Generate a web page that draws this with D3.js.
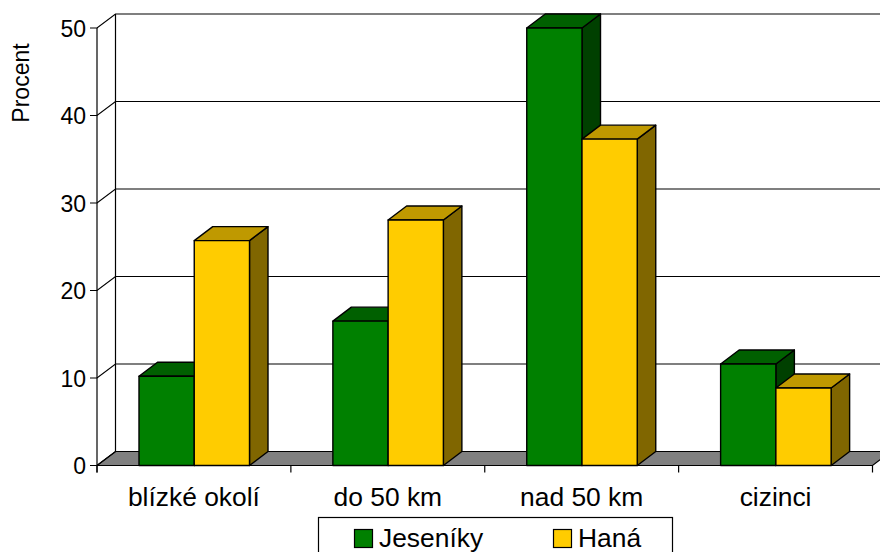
<!DOCTYPE html>
<html><head><meta charset="utf-8">
<script src="https://cdn.jsdelivr.net/npm/d3@7/dist/d3.min.js"></script>
<style>html,body{margin:0;padding:0;background:#fff;overflow:hidden}svg{display:block}text{font-family:"Liberation Sans",Arial,sans-serif;fill:#000}</style>
</head><body><script>
const categories = ["blízké okolí","do 50 km","nad 50 km","cizinci"];
const seriesNames = ["Jeseníky","Haná"];
const jeseniky = [10.2,16.5,50,11.6];
const hana = [25.7,28.05,37.3,8.86];
const yTicks = [0,10,20,30,40,50];
const colors = {Jeseníky:{front:"#008000",top:"#006000",side:"#004000"},Haná:{front:"#ffcc00",top:"#bf9900",side:"#806600"}};

const W=880,H=552,dx=18.5,dy=-14;
const svg=d3.select("body").append("svg").attr("width",W).attr("height",H);
const y=d3.scaleLinear().domain([0,50]).range([465.5,28]);
const x0=d3.scaleBand().domain(categories).range([97,872.5]);
const x1=d3.scaleBand().domain(seriesNames).range([x0.bandwidth()*0.2166,x0.bandwidth()*0.7866]);

// floor
const base=y(0);
svg.append("path").attr("d",`M97,${base}L${97+dx},${base+dy}H${872.5+dx}L872.5,${base}Z`)
  .attr("fill","#808080").attr("stroke","#000").attr("stroke-width",1.2);
// gridlines
const grid=svg.append("g").attr("fill","none").attr("stroke","#000").attr("stroke-width",1.2);
yTicks.forEach(t=>{
  grid.append("path").attr("d",`M90,${y(t)}H97L${97+dx},${y(t)+dy}H${W+20}`);
});
grid.append("path").attr("d",`M97,${y(50)}V${base+7}`);
grid.append("path").attr("d",`M${97+dx},${y(50)+dy}V${base+dy}`);
grid.append("path").attr("d",`M97,${base}H872.5`);
d3.range(5).forEach(i=>{
  const tx=97+i*x0.step();
  grid.append("path").attr("d",`M${tx},${base}v7`);
});
// bars
const barData=categories.flatMap((c,i)=>[
  {c,s:seriesNames[0],v:jeseniky[i]},
  {c,s:seriesNames[1],v:hana[i]}]);
const bars=svg.append("g").attr("stroke","#000").attr("stroke-width",1.4).attr("stroke-linejoin","round");
barData.forEach(d=>{
  const l=x0(d.c)+x1(d.s),r=l+x1.bandwidth(),t=y(d.v),col=colors[d.s];
  bars.append("path").attr("d",`M${r},${base}L${r+dx},${base+dy}V${t+dy}L${r},${t}Z`).attr("fill",col.side);
  bars.append("path").attr("d",`M${l},${t}L${l+dx},${t+dy}H${r+dx}L${r},${t}Z`).attr("fill",col.top);
  bars.append("rect").attr("x",l).attr("y",t).attr("width",r-l).attr("height",base-t).attr("fill",col.front);
});
// y labels
svg.append("g").selectAll("text").data(yTicks).join("text")
  .attr("x",86).attr("y",d=>y(d)+8.5).attr("text-anchor","end").attr("font-size",23).text(d=>d);
svg.append("text").attr("transform","translate(28.5,83) rotate(-90)").attr("text-anchor","middle").attr("font-size",23).text("Procent");
// x labels
svg.append("g").selectAll("text").data(categories).join("text")
  .attr("x",d=>x0(d)+x0.bandwidth()/2).attr("y",506).attr("text-anchor","middle").attr("font-size",26.4).text(d=>d);
// legend
svg.append("rect").attr("x",318.5).attr("y",517.5).attr("width",354).attr("height",50).attr("fill","#fff").attr("stroke","#000").attr("stroke-width",1.2);
const legX=[354.5,553.5];
seriesNames.forEach((s,i)=>{
  svg.append("rect").attr("x",legX[i]).attr("y",529.5).attr("width",18).attr("height",18).attr("fill",colors[s].front).attr("stroke","#000").attr("stroke-width",1.2);
  svg.append("text").attr("x",legX[i]+24.5).attr("y",546.5).attr("font-size",26.4).text(s);
});
</script></body></html>
